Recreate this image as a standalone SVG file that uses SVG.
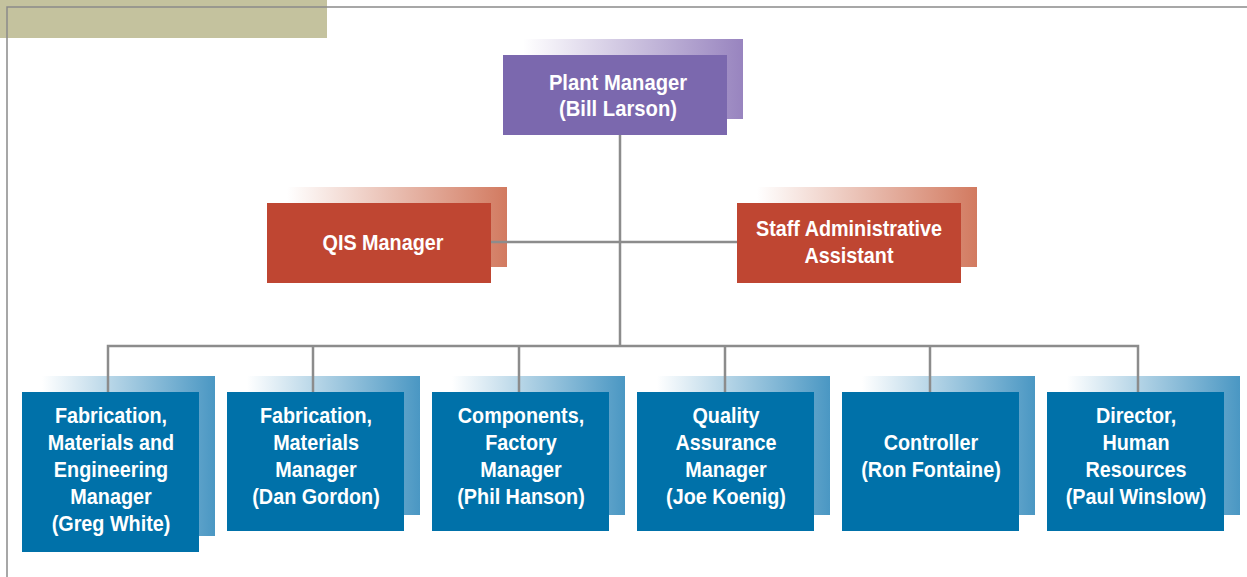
<svg xmlns="http://www.w3.org/2000/svg" width="1247" height="577" viewBox="0 0 1247 577">
<defs>
<linearGradient id="gp" x1="0" y1="0" x2="1" y2="0"><stop offset="0" stop-color="#ffffff"/><stop offset="1" stop-color="#9884bf"/></linearGradient>
<linearGradient id="gr" x1="0" y1="0" x2="1" y2="0"><stop offset="0" stop-color="#ffffff"/><stop offset="1" stop-color="#d27a60"/></linearGradient>
<linearGradient id="gb" x1="0" y1="0" x2="1" y2="0"><stop offset="0" stop-color="#ffffff"/><stop offset="1" stop-color="#4a97c3"/></linearGradient>
<style>
.t{font-family:"Liberation Sans",Arial,sans-serif;font-weight:bold;font-size:22px;fill:#ffffff;text-anchor:middle}
.p{fill:#7b68ae}.r{fill:#bf4632}.b{fill:#0071a9}
.ln{stroke:#8c8c8c;stroke-width:2.5;fill:none}
</style>
</defs>
<rect x="0" y="0" width="327" height="38" fill="#c4c29e"/>
<path d="M7 577V7H1247" stroke="#8a8a8a" stroke-width="1.5" fill="none"/>
<g id="plant"><rect x="523" y="39" width="220" height="80" fill="url(#gp)"/><rect class="p" x="503" y="55" width="224" height="80"/><text class="t" transform="translate(618 0) scale(0.92 1)"><tspan x="0" y="90">Plant Manager</tspan><tspan x="0" y="116">(Bill Larson)</tspan></text></g>
<g id="qis"><rect x="287" y="187" width="220" height="80" fill="url(#gr)"/><rect class="r" x="267" y="203" width="224" height="80"/><text class="t" transform="translate(383 0) scale(0.9 1)" x="0" y="250">QIS Manager</text></g>
<g id="staff"><rect x="757" y="187" width="220" height="80" fill="url(#gr)"/><rect class="r" x="737" y="203" width="224" height="80"/><text class="t" transform="translate(849 0) scale(0.9 1)"><tspan x="0" y="236">Staff Administrative</tspan><tspan x="0" y="263">Assistant</tspan></text></g>
<g id="fme"><rect x="42" y="376" width="173" height="160" fill="url(#gb)"/><rect class="b" x="22" y="392" width="177" height="160"/><text class="t" transform="translate(111 0) scale(0.9 1)"><tspan x="0" y="423">Fabrication,</tspan><tspan x="0" y="450">Materials and</tspan><tspan x="0" y="477">Engineering</tspan><tspan x="0" y="504">Manager</tspan><tspan x="0" y="531">(Greg White)</tspan></text></g>
<g id="fm"><rect x="247" y="376" width="173" height="139" fill="url(#gb)"/><rect class="b" x="227" y="392" width="177" height="139"/><text class="t" transform="translate(316 0) scale(0.9 1)"><tspan x="0" y="423">Fabrication,</tspan><tspan x="0" y="450">Materials</tspan><tspan x="0" y="477">Manager</tspan><tspan x="0" y="504">(Dan Gordon)</tspan></text></g>
<g id="comp"><rect x="452" y="376" width="173" height="139" fill="url(#gb)"/><rect class="b" x="432" y="392" width="177" height="139"/><text class="t" transform="translate(521 0) scale(0.9 1)"><tspan x="0" y="423">Components,</tspan><tspan x="0" y="450">Factory</tspan><tspan x="0" y="477">Manager</tspan><tspan x="0" y="504">(Phil Hanson)</tspan></text></g>
<g id="qa"><rect x="657" y="376" width="173" height="139" fill="url(#gb)"/><rect class="b" x="637" y="392" width="177" height="139"/><text class="t" transform="translate(726 0) scale(0.9 1)"><tspan x="0" y="423">Quality</tspan><tspan x="0" y="450">Assurance</tspan><tspan x="0" y="477">Manager</tspan><tspan x="0" y="504">(Joe Koenig)</tspan></text></g>
<g id="ctrl"><rect x="862" y="376" width="173" height="139" fill="url(#gb)"/><rect class="b" x="842" y="392" width="177" height="139"/><text class="t" transform="translate(931 0) scale(0.9 1)"><tspan x="0" y="450">Controller</tspan><tspan x="0" y="477">(Ron Fontaine)</tspan></text></g>
<g id="hr"><rect x="1067" y="376" width="173" height="139" fill="url(#gb)"/><rect class="b" x="1047" y="392" width="177" height="139"/><text class="t" transform="translate(1136 0) scale(0.9 1)"><tspan x="0" y="423">Director,</tspan><tspan x="0" y="450">Human</tspan><tspan x="0" y="477">Resources</tspan><tspan x="0" y="504">(Paul Winslow)</tspan></text></g>
<g id="connectors">
<path class="ln" d="M620 135V346M491 242H737M108 392V346H1138V392M313 346V392M519 346V392M725 346V392M930 346V392"/>
</g>
</svg>
